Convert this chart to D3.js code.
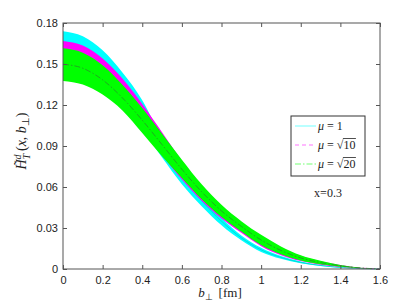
<!DOCTYPE html>
<html><head><meta charset="utf-8">
<script src="https://cdn.jsdelivr.net/npm/d3@7"></script>
<style>body{margin:0;background:#fff}svg{display:block}</style>
</head><body>
<svg id="c" width="409" height="303"></svg>
<script>
const bVals = [0, 0.1, 0.2, 0.3, 0.4, 0.5, 0.6, 0.7, 0.8, 0.9, 1.0, 1.1, 1.2, 1.3, 1.4, 1.5, 1.6];
// mu = 1 band (cyan)
const mu1Upper = [0.174, 0.1703, 0.1600, 0.1438, 0.1235, 0.0955, 0.073, 0.054, 0.0375, 0.0245, 0.0155, 0.0095, 0.0055, 0.003, 0.0013, 0.0004, 0];
const mu1Lower = [0.140, 0.137, 0.130, 0.118, 0.102, 0.0815, 0.062, 0.046, 0.032, 0.021, 0.0125, 0.0075, 0.0042, 0.0022, 0.001, 0.0003, 0];
const mu1Mid   = [0.150, 0.147, 0.139, 0.126, 0.109, 0.088, 0.0675, 0.050, 0.035, 0.0228, 0.014, 0.0085, 0.0048, 0.0026, 0.0011, 0.0003, 0];
// mu = sqrt(10) band (magenta)
const mu10Upper = [0.1668, 0.1635, 0.1541, 0.1394, 0.1207, 0.1000, 0.079, 0.061, 0.046, 0.034, 0.024, 0.016, 0.0097, 0.0057, 0.0029, 0.001, 0];
const mu10Lower = [0.140, 0.137, 0.130, 0.117, 0.101, 0.083, 0.0655, 0.050, 0.037, 0.0265, 0.0167, 0.0101, 0.0058, 0.0032, 0.0016, 0.0005, 0];
const mu10Mid   = [0.150, 0.147, 0.139, 0.126, 0.110, 0.091, 0.072, 0.0548, 0.040, 0.029, 0.0195, 0.0125, 0.0075, 0.0042, 0.002, 0.0007, 0];
// mu = sqrt(20) band (green)
const mu20Upper = [0.1615, 0.1583, 0.1491, 0.1348, 0.1178, 0.099, 0.080, 0.062, 0.047, 0.035, 0.025, 0.0165, 0.010, 0.006, 0.003, 0.001, 0];
const mu20Lower = [0.1376, 0.1350, 0.1276, 0.1160, 0.0995, 0.0825, 0.0665, 0.051, 0.038, 0.0275, 0.0175, 0.0108, 0.0062, 0.0035, 0.0017, 0.0006, 0];
const mu20Mid   = [0.1498, 0.1469, 0.1384, 0.1252, 0.1089, 0.091, 0.073, 0.0565, 0.0425, 0.0312, 0.0212, 0.0136, 0.0081, 0.0047, 0.0023, 0.0008, 0];

const xTicks = [0, 0.2, 0.4, 0.6, 0.8, 1, 1.2, 1.4, 1.6];
const xTickLabels = ["0", "0.2", "0.4", "0.6", "0.8", "1", "1.2", "1.4", "1.6"];
const yTicks = [0, 0.03, 0.06, 0.09, 0.12, 0.15, 0.18];
const yTickLabels = ["0", "0.03", "0.06", "0.09", "0.12", "0.15", "0.18"];
const legendLabels = ["1", "10", "20"];

const svg = d3.select("#c");
const L = 63, R = 380, T = 23, B = 269;
const x = d3.scaleLinear().domain([0, 1.6]).range([L, R]);
const y = d3.scaleLinear().domain([0, 0.18]).range([B, T]);

const series = [
  {up: mu1Upper, lo: mu1Lower, mid: mu1Mid, fill: "#00ffff", line: "#00d0d0", dash: null},
  {up: mu10Upper, lo: mu10Lower, mid: mu10Mid, fill: "#ff00ff", line: "#d000d0", dash: "4,3"},
  {up: mu20Upper, lo: mu20Lower, mid: mu20Mid, fill: "#00ff00", line: "#2a8f2a", dash: "6,2,1.5,2"}
];
const area = d3.area().x(d => x(d.b)).y0(d => y(d.lo)).y1(d => y(d.up)).curve(d3.curveMonotoneX);
const line = d3.line().x(d => x(d.b)).y(d => y(d.v)).curve(d3.curveMonotoneX);

const plot = svg.append("g");
series.forEach(s => {
  const pts = bVals.map((b, i) => ({b, up: s.up[i], lo: s.lo[i]}));
  plot.append("path").attr("d", area(pts)).attr("fill", s.fill).attr("stroke", "none");
  const mp = bVals.map((b, i) => ({b, v: s.mid[i]}));
  plot.append("path").attr("d", line(mp)).attr("fill", "none").attr("stroke", s.line)
    .attr("stroke-width", 0.8).attr("stroke-dasharray", s.dash);
});

// axes box
const axCol = "#555";
svg.append("rect").attr("x", L).attr("y", T).attr("width", R - L).attr("height", B - T)
  .attr("fill", "none").attr("stroke", axCol).attr("stroke-width", 1);

const tickLen = 4;
const gx = svg.append("g").attr("transform", `translate(0,${B})`)
  .call(d3.axisBottom(x).tickValues(xTicks).tickFormat((d, i) => xTickLabels[i]).tickSizeInner(-tickLen).tickSizeOuter(0).tickPadding(7));
const gxt = svg.append("g").attr("transform", `translate(0,${T})`)
  .call(d3.axisTop(x).tickValues(xTicks).tickFormat("").tickSizeInner(-tickLen).tickSizeOuter(0));
const gy = svg.append("g").attr("transform", `translate(${L},0)`)
  .call(d3.axisLeft(y).tickValues(yTicks).tickFormat((d, i) => yTickLabels[i]).tickSizeInner(-tickLen).tickSizeOuter(0).tickPadding(5));
const gyr = svg.append("g").attr("transform", `translate(${R},0)`)
  .call(d3.axisRight(y).tickValues(yTicks).tickFormat("").tickSizeInner(-tickLen).tickSizeOuter(0));
[gx, gxt, gy, gyr].forEach(g => {
  g.select(".domain").remove();
  g.selectAll("line").attr("stroke", axCol);
  g.selectAll("text").attr("font-family", "Liberation Sans, Arial, sans-serif").attr("font-size", 11).attr("fill", "#222");
});

// x label
const xl = svg.append("text").attr("x", 220).attr("y", 297).attr("text-anchor", "middle")
  .attr("font-family", "Liberation Serif, serif").attr("font-size", 13).attr("fill", "#222");
xl.append("tspan").attr("font-style", "italic").text("b");
xl.append("tspan").attr("font-size", 9).attr("dy", 3).text("⊥");
xl.append("tspan").attr("dy", -3).text("\u2009 [fm]");

// y label
const yg = svg.append("g").attr("transform", "translate(26,141) rotate(-90)");
const yt = yg.append("text").attr("text-anchor", "middle")
  .attr("font-family", "Liberation Serif, serif").attr("font-size", 14).attr("fill", "#222");
yt.append("tspan").attr("font-style", "italic").text("H\u0303");
yt.append("tspan").attr("font-style", "italic").attr("font-size", 10).attr("dy", -5).text("d");
yt.append("tspan").attr("font-style", "italic").attr("font-size", 10).attr("dx", -5).attr("dy", 9).text("T");
yt.append("tspan").attr("dy", -4).text("\u2009(");
yt.append("tspan").attr("font-style", "italic").text("x");
yt.append("tspan").text(", ");
yt.append("tspan").attr("font-style", "italic").text("b");
yt.append("tspan").attr("font-size", 10).attr("dy", 3).text("⊥");
yt.append("tspan").attr("dy", -3).text(")");

// legend
const lg = svg.append("g");
lg.append("rect").attr("x", 291).attr("y", 116).attr("width", 74).attr("height", 60)
  .attr("fill", "#fff").attr("stroke", "#333").attr("stroke-width", 1);
const rowY = [126, 145, 164];
series.forEach((s, i) => {
  lg.append("line").attr("x1", 295).attr("x2", 316).attr("y1", rowY[i]).attr("y2", rowY[i])
    .attr("stroke", s.fill).attr("stroke-width", 1).attr("stroke-opacity", 0.55).attr("stroke-dasharray", s.dash);
  const t = lg.append("text").attr("x", 318).attr("y", rowY[i] + 4)
    .attr("font-family", "Liberation Serif, serif").attr("font-size", 12).attr("fill", "#222");
  t.append("tspan").attr("font-style", "italic").text("μ");
  t.append("tspan").text(" = ");
  if (i === 0) {
    t.append("tspan").text(legendLabels[i]);
  } else {
    t.append("tspan").text("√");
    const num = t.append("tspan").text(legendLabels[i]);
    const full = t.node().getComputedTextLength();
    const nw = num.node().getComputedTextLength();
    lg.append("line").attr("x1", 318 + full - nw - 0.5).attr("x2", 318 + full + 0.5)
      .attr("y1", rowY[i] - 6.5).attr("y2", rowY[i] - 6.5).attr("stroke", "#222").attr("stroke-width", 0.8);
  }
});

// annotation
svg.append("text").attr("x", 328).attr("y", 197).attr("text-anchor", "middle")
  .attr("font-family", "Liberation Serif, serif").attr("font-size", 12).attr("fill", "#222").text("x=0.3");
</script>
</body></html>
